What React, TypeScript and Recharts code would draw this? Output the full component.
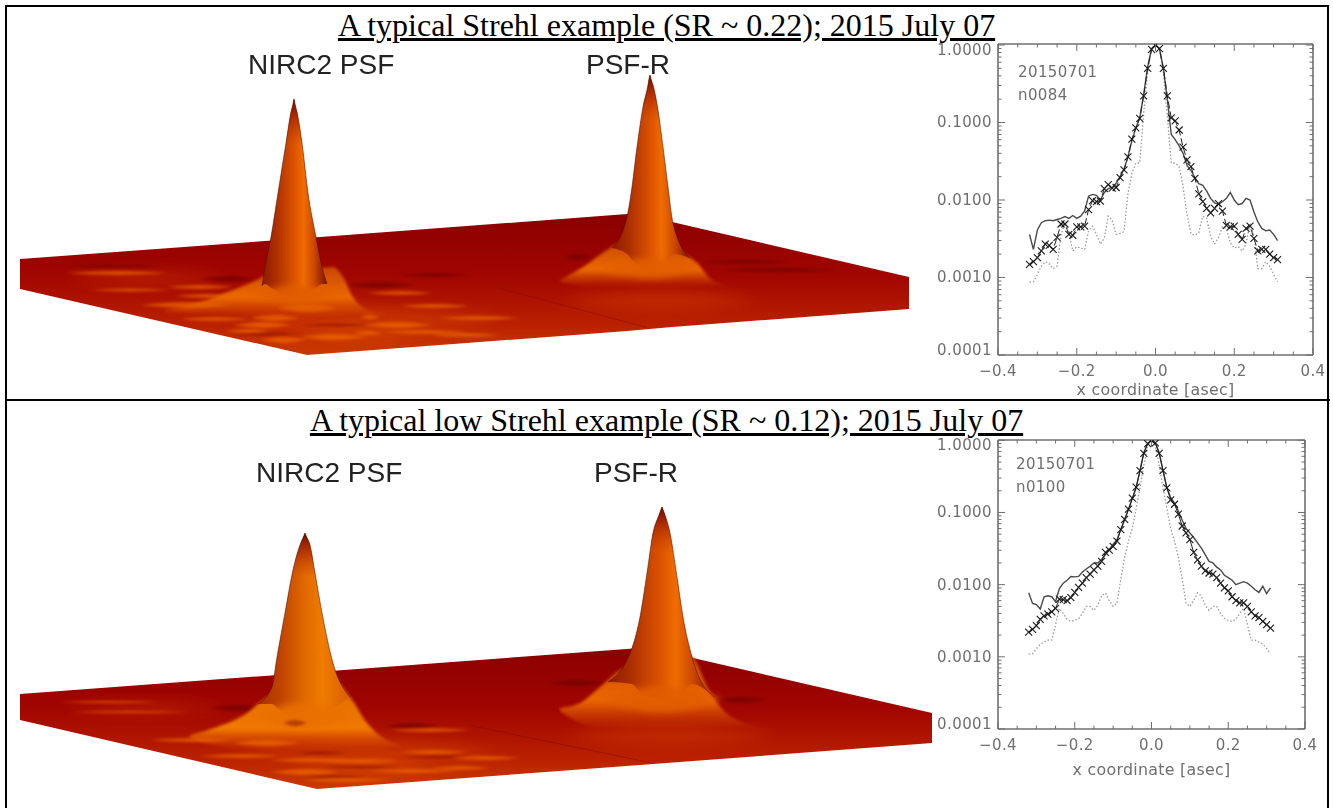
import React from 'react'
import { ComposedChart, LineChart, Line, Area, XAxis, YAxis } from 'recharts'

// profile cuts, x in arcsec
const xCoords = [-0.32,-0.31,-0.30,-0.29,-0.28,-0.27,-0.26,-0.25,-0.24,-0.23,-0.22,-0.21,-0.20,-0.19,-0.18,-0.17,-0.16,-0.15,-0.14,-0.13,-0.12,-0.11,-0.10,-0.09,-0.08,-0.07,-0.06,-0.05,-0.04,-0.03,-0.02,-0.01,0,0.01,0.02,0.03,0.04,0.05,0.06,0.07,0.08,0.09,0.10,0.11,0.12,0.13,0.14,0.15,0.16,0.17,0.18,0.19,0.20,0.21,0.22,0.23,0.24,0.25,0.26,0.27,0.28,0.29,0.30,0.31]

const crossedTop = [.00148,.0016,.0018,.0022,.0027,.0026,.0023,.0033,.0049,.0049,.0036,.0035,.0045,.0045,.0046,.0075,.0098,.0095,.0097,.014,.0158,.0142,.0145,.0195,.0245,.036,.061,.085,.113,.22,.5,.88,1,.9,.5,.22,.115,.105,.08,.048,.033,.027,.019,.012,.0095,.0078,.0068,.0078,.009,.0072,.0047,.0045,.0046,.0036,.0031,.0043,.0046,.0032,.0022,.0023,.0023,.002,.0018,.0017]
const solidTop = [.0036,.0023,.0041,.0051,.0054,.0055,.0054,.0056,.0058,.0061,.0058,.0063,.0058,.0062,.0072,.0112,.0118,.0115,.01,.0125,.014,.0145,.0165,.02,.025,.036,.058,.085,.115,.23,.52,.9,1,.9,.5,.2,.07,.06,.05,.04,.028,.024,.0195,.0162,.0155,.013,.0105,.0092,.0088,.0095,.0105,.0125,.01,.0087,.009,.0105,.01,.007,.0052,.0043,.004,.0041,.0036,.003]
const dottedTop = [.00087,.00088,.0011,.0014,.0016,.0015,.0013,.0014,.0035,.005,.0038,.0022,.0025,.0024,.0023,.004,.0046,.0036,.0027,.0032,.0062,.0055,.0036,.0037,.0039,.012,.022,.03,.03,.13,.45,.9,1,.9,.45,.12,.03,.03,.027,.015,.0065,.0037,.0035,.0038,.0062,.0058,.0034,.0027,.0033,.0045,.0043,.0028,.0024,.0025,.0022,.0027,.005,.0035,.0013,.0013,.0016,.0014,.0011,.00088]

const crossedLow = [.0022,.0024,.0027,.0033,.0037,.0039,.0042,.0047,.0063,.0062,.006,.0066,.0078,.0092,.0105,.0125,.014,.016,.018,.021,.028,.03,.034,.04,.058,.08,.111,.158,.224,.38,.66,.9,1,.92,.66,.38,.22,.15,.13,.095,.065,.052,.042,.028,.022,.018,.0155,.0145,.014,.0125,.0105,.009,.0082,.0068,.006,.0056,.0056,.005,.0042,.0037,.0035,.0031,.0028,.0025]
const solidLow = [.0077,.0055,.0053,.0046,.0068,.007,.0068,.0058,.0088,.0105,.0115,.013,.0128,.013,.015,.0165,.018,.02,.02,.0225,.026,.031,.036,.042,.058,.08,.11,.155,.22,.38,.68,.9,1,.92,.68,.38,.22,.16,.135,.105,.078,.06,.052,.045,.038,.032,.026,.021,.02,.0175,.016,.0135,.0125,.0115,.01,.0105,.011,.0105,.0095,.0085,.0078,.0095,.0075,.009]
const dottedLow = [.0011,.0011,.0013,.0015,.0016,.0017,.0017,.0028,.0047,.004,.0033,.0031,.0032,.0034,.004,.005,.005,.0044,.0052,.007,.0077,.006,.005,.0055,.012,.024,.04,.06,.115,.22,.45,.85,1,.85,.45,.22,.115,.06,.04,.024,.012,.0055,.005,.006,.0077,.007,.0052,.0044,.005,.005,.004,.0034,.0032,.0031,.0033,.004,.0047,.0028,.0017,.0017,.0016,.0015,.0013,.0011]

const xTickValues = [-0.4,-0.35,-0.3,-0.25,-0.2,-0.15,-0.1,-0.05,0,0.05,0.1,0.15,0.2,0.25,0.3,0.35,0.4]
const xMajor = [-0.4,-0.2,0,0.2,0.4]
const yMajor = [0.0001,0.001,0.01,0.1,1]
const yTickValues = [.0001,.0002,.0003,.0004,.0005,.0006,.0007,.0008,.0009,.001,.002,.003,.004,.005,.006,.007,.008,.009,.01,.02,.03,.04,.05,.06,.07,.08,.09,.1,.2,.3,.4,.5,.6,.7,.8,.9,1]

// surface silhouettes in page units
const plane1X = [20,307,627,672,909]
const plane1Back = [259,238,214,222,277]
const plane1Front = [289,355,331,327,309]
const plane2X = [20,317,640,693,932]
const plane2Back = [694,672,648,658,713]
const plane2Front = [720,789,765,761,743]

const cone1X = [262,265,271,278,286,291,293,294,295,297,302,308,316,322,327]
const cone1Top = [286,267,237,193,143,112,104,99,104,112,143,193,237,267,284]
const cone1Base = [286,284,288,292,295,296,296,296,296,296,295,292,288,284,284]
const foot1X = [165,200,233,257,280,305,322,333,343,353,362,385]
const foot1Top = [310,302,290,280,268,268,268,267,277,297,307,314]
const foot1Base = [312,314,315,316,318,318,317,316,315,314,314,316]

const cone2X = [612,627,632,637,643,648,649,650,651,653,658,663,668,673,690]
const cone2Top = [248,217,187,147,107,85,79,75,79,85,110,147,187,223,258]
const cone2Base = [248,254,260,264,267,268,268,268,268,268,267,264,260,254,258]
const foot2X = [560,573,583,607,620,640,660,683,697,710,725]
const foot2Top = [280,273,267,250,243,245,245,253,263,278,285]
const foot2Base = [282,285,287,287,287,287,287,287,287,286,287]

const cone3X = [258,272,277,285,293,300,304,305,306,310,315,322,333,350]
const cone3Top = [704,687,657,613,570,545,535.5,533,535.5,545,573,613,663,697]
const cone3Base = [704,704,708,714,717,718,718,718,718,718,717,714,708,697]
const foot3X = [190,217,247,263,280,305,333,350,367,383,400]
const foot3Top = [735,727,713,700,690,680,680,697,723,738,745]
const foot3Base = [738,746,750,750,750,750,750,750,750,748,747]

const cone4X = [608,632,640,647,653,659,661,662,663,665,670,677,683,692,714]
const cone4Top = [682,648,617,573,533,515,509.5,507,509.5,515,533,577,617,657,697]
const cone4Base = [682,684,692,696,698,700,700,700,700,700,698,696,692,684,697]
const foot4X = [560,580,600,620,640,662,692,707,723,737,760]
const foot4Top = [708,703,687,670,660,655,657,687,710,720,728]
const foot4Base = [711,723,727,728,728,728,728,728,727,727,730]

// ripples: start, end, centre, half thickness
const glowRipples = [[230,500,320,14],[285,420,335,7],[230,500,752,14],[295,440,768,9],[560,760,300,10],[560,780,735,10],[60,230,278,6],[60,230,708,5]]
const lightRipples1 = [[140,233,305,3],[250,300,318,3],[277,337,308,4],[360,380,317,2],[363,433,325,3],[353,383,333,2],[383,467,332,2],[300,367,337,3],[233,293,325,3],[260,307,340,3],[167,233,287,2],[67,167,273,2],[367,433,293,2],[180,250,319,2],[440,520,318,2],[430,500,335,2],[225,270,331,2],[90,170,290,1.5],[400,470,306,2],[175,240,296,2]]
const darkRipples1 = [[200,255,279,3],[345,415,285,3],[563,593,257,3],[700,790,262,2],[720,840,270,2],[60,170,266,1.5],[400,470,275,2],[300,370,325,1],[230,300,334,1]]
const lightRipples2 = [[233,300,743,3],[150,233,740,2],[320,400,761,2],[400,467,752,2],[270,340,772,3],[300,390,780,2],[370,460,771,2],[200,280,756,2],[430,490,768,2],[450,520,758,2],[70,190,712,1],[60,160,702,1],[390,470,730,2],[270,350,760,2]]
const darkRipples2 = [[293,347,753,1],[300,367,777,1],[320,400,767,1],[400,467,757,1],[385,440,726,3],[547,607,683,3],[717,767,700,3],[210,265,708,3]]
// soft collars where a cone runs into its foot
const collarRipples = [[252,338,294,9],[600,700,268,10],[250,356,716,13],[600,722,699,13]]
const dentRipples = [[283,307,723,3]]

const planeSeam1 = [[497,647],[287,327]]
const planeSeam2 = [[470,650],[725,762]]

const toBand = (xs: number[], tops: number[], bases: number[]) => xs.map((x, i) => ({ x, band: [tops[i], bases[i]] }))
const toLens = ([a, b, y, t]: number[]) => [
  { x: a, band: [y, y] },
  { x: (a + b) / 2, band: [y - t, y + t] },
  { x: b, band: [y, y] },
]
const toEdge = (xs: number[], ys: number[]) => xs.map((x, i) => ({ x, y: ys[i] }))

const grey = '#6f6f6f'
const plotFont = '"DejaVu Sans", sans-serif'

const planes = [toBand(plane1X, plane1Back, plane1Front), toBand(plane2X, plane2Back, plane2Front)]
const feet = [
  [toBand(foot1X, foot1Top, foot1Base), 'footFill'],
  [toBand(foot2X, foot2Top, foot2Base), 'footFill'],
  [toBand(foot3X, foot3Top, foot3Base), 'footFillLow'],
  [toBand(foot4X, foot4Top, foot4Base), 'footFill'],
] as [any[], string][]
const cones = [
  [toBand(cone1X, cone1Top, cone1Base), 'coneFill', toEdge(cone1X, cone1Top)],
  [toBand(cone2X, cone2Top, cone2Base), 'coneFill', toEdge(cone2X, cone2Top)],
  [toBand(cone3X, cone3Top, cone3Base), 'coneFillLow', toEdge(cone3X, cone3Top)],
  [toBand(cone4X, cone4Top, cone4Base), 'coneFill', toEdge(cone4X, cone4Top)],
] as [any[], string, any[]][]
const glows = glowRipples.map(toLens)
const lights = [...lightRipples1, ...lightRipples2].map(toLens)
const darks = [...darkRipples1, ...darkRipples2].map(toLens)
const collars = collarRipples.map(toLens)
const dents = dentRipples.map(toLens)
const seams = [planeSeam1, planeSeam2].map(([xs, ys]) => toBand(xs, ys, ys.map(y => y + 1)))

const flat = { isAnimationActive: false, dot: false, activeDot: false, stroke: 'none', fillOpacity: 1 } as const

function Surfaces() {
  return (
    <ComposedChart width={940} height={808} margin={{ top: 0, right: 0, bottom: 0, left: 0 }}>
      <defs>
        <filter id="soft" x="-20%" y="-100%" width="140%" height="300%">
          <feGaussianBlur stdDeviation="1.4" />
        </filter>
        <filter id="mid" x="-30%" y="-150%" width="160%" height="400%">
          <feGaussianBlur stdDeviation="3.2" />
        </filter>
        <filter id="softer" x="-20%" y="-100%" width="140%" height="300%">
          <feGaussianBlur stdDeviation="7" />
        </filter>
        <linearGradient id="planeFill" x1="0" y1="0" x2="0" y2="1">
          <stop offset="0%" stopColor="#8a0000" />
          <stop offset="45%" stopColor="#a20600" />
          <stop offset="80%" stopColor="#bb2200" />
          <stop offset="100%" stopColor="#c83c00" />
        </linearGradient>
        <linearGradient id="coneFill" x1="0" y1="0" x2="1" y2="0">
          <stop offset="0%" stopColor="#8c1a00" />
          <stop offset="22%" stopColor="#ad2f00" />
          <stop offset="50%" stopColor="#dc5400" />
          <stop offset="64%" stopColor="#f06c00" />
          <stop offset="80%" stopColor="#cc4800" />
          <stop offset="100%" stopColor="#7c1200" />
        </linearGradient>
        <linearGradient id="coneFillLow" x1="0" y1="0" x2="1" y2="0">
          <stop offset="0%" stopColor="#a83200" />
          <stop offset="25%" stopColor="#c04400" />
          <stop offset="50%" stopColor="#e06800" />
          <stop offset="70%" stopColor="#f07c00" />
          <stop offset="100%" stopColor="#d85c00" />
        </linearGradient>
        <linearGradient id="footFill" x1="0" y1="0" x2="0" y2="1">
          <stop offset="0%" stopColor="#c84800" />
          <stop offset="60%" stopColor="#ec6800" />
          <stop offset="100%" stopColor="#e06000" stopOpacity="0" />
        </linearGradient>
        <linearGradient id="footFillLow" x1="0" y1="0" x2="0" y2="1">
          <stop offset="0%" stopColor="#e06c00" />
          <stop offset="70%" stopColor="#f07800" />
          <stop offset="100%" stopColor="#e86000" stopOpacity="0" />
        </linearGradient>
        <linearGradient id="tipShade" x1="0" y1="0" x2="0" y2="1">
          <stop offset="0%" stopColor="#6a0a00" />
          <stop offset="10%" stopColor="#a02000" stopOpacity="0.7" />
          <stop offset="24%" stopColor="#c03800" stopOpacity="0" />
        </linearGradient>
      </defs>
      <XAxis type="number" dataKey="x" domain={[0, 940]} hide />
      <YAxis type="number" domain={[0, 808]} reversed hide />
      {planes.map((d, i) => (
        <Area key={'plane' + i} {...flat} data={d} dataKey="band" type="linear" fill="url(#planeFill)" />
      ))}
      {glows.map((d, i) => (
        <Area key={'glow' + i} {...flat} data={d} dataKey="band" type="monotone" fill="#e85800" fillOpacity={0.3} filter="url(#softer)" />
      ))}
      {darks.map((d, i) => (
        <Area key={'dark' + i} {...flat} data={d} dataKey="band" type="monotone" fill="#6a0000" fillOpacity={0.6} filter="url(#soft)" />
      ))}
      {lights.map((d, i) => (
        <Area key={'light' + i} {...flat} data={d} dataKey="band" type="monotone" fill="#f06a00" fillOpacity={0.7} filter="url(#soft)" />
      ))}
      {seams.map((d, i) => (
        <Area key={'seam' + i} {...flat} data={d} dataKey="band" type="linear" fill="#8a0a00" fillOpacity={0.5} />
      ))}
      {feet.map(([d, fill], i) => (
        <Area key={'foot' + i} {...flat} data={d} dataKey="band" type="monotone" fill={`url(#${fill})`} filter="url(#soft)" />
      ))}
      {cones.map(([d, fill], i) => (
        <Area key={'cone' + i} {...flat} data={d} dataKey="band" type="monotone" fill={`url(#${fill})`} />
      ))}
      {cones.map(([d], i) => (
        <Area key={'tip' + i} {...flat} data={d} dataKey="band" type="monotone" fill="url(#tipShade)" />
      ))}
      {cones.map(([, , edge], i) => (
        <Line key={'edge' + i} data={edge} dataKey="y" type="monotone" stroke="#5a0800" strokeOpacity={0.55} strokeWidth={1} dot={false} activeDot={false} isAnimationActive={false} />
      ))}
      {collars.map((d, i) => (
        <Area key={'collar' + i} {...flat} data={d} dataKey="band" type="monotone" fill={i === 2 ? '#ea7000' : '#e25c00'} fillOpacity={0.9} filter="url(#mid)" />
      ))}
      {dents.map((d, i) => (
        <Area key={'dent' + i} {...flat} data={d} dataKey="band" type="monotone" fill="#a83000" fillOpacity={0.8} filter="url(#soft)" />
      ))}
    </ComposedChart>
  )
}

const crossDot = (props: any) => {
  const { cx, cy, index } = props
  return <path key={index} d={`M${cx - 3.5} ${cy - 3.5}L${cx + 3.5} ${cy + 3.5}M${cx - 3.5} ${cy + 3.5}L${cx + 3.5} ${cy - 3.5}`} stroke="#1a1a1a" strokeWidth={1.1} fill="none" />
}

const tickText = { fill: grey, fontFamily: plotFont, fontSize: 15, letterSpacing: 0.4 }

const yTick = (side: 'left' | 'right') => (props: any) => {
  const { x, y, payload } = props
  const major = yMajor.includes(payload.value)
  const len = major ? 7 : 3.5
  const dx = side === 'left' ? len : -len
  const shift = payload.value === 1 ? 5 : payload.value === 0.0001 ? -5 : 0
  return (
    <g>
      <line x1={x} x2={x + dx} y1={y} y2={y} stroke={grey} />
      {side === 'left' && major && (
        <text x={x - 6} y={y + shift + 5} textAnchor="end" {...tickText}>{payload.value.toFixed(4)}</text>
      )}
    </g>
  )
}

const xTick = (side: 'top' | 'bottom') => (props: any) => {
  const { x, y, payload } = props
  const major = xMajor.includes(payload.value)
  const len = major ? 7 : 3.5
  const dy = side === 'bottom' ? -len : len
  return (
    <g>
      <line x1={x} x2={x} y1={y} y2={y + dy} stroke={grey} />
      {side === 'bottom' && major && (
        <text x={x} y={y + 21} textAnchor="middle" {...tickText}>{payload.value.toFixed(1).replace('-', '\u2212')}</text>
      )}
    </g>
  )
}

type ProfileProps = {
  crossed: number[]
  solid: number[]
  dotted: number[]
  width: number
  height: number
  sides: { left: number; right: number; top: number; bottom: number }
  yMax: number
  crossedDash?: string
}

function ProfilePlot({ crossed, solid, dotted, width, height, sides, yMax, crossedDash }: ProfileProps) {
  const rows = xCoords.map((x, i) => ({ x, crossed: crossed[i], solid: solid[i], dotted: dotted[i] }))
  const axisStroke = { stroke: grey, strokeWidth: 1.6 }
  return (
    <LineChart width={width} height={height} data={rows} margin={{ top: 0, right: 0, bottom: 0, left: 0 }}>
      <XAxis xAxisId="b" type="number" dataKey="x" domain={[-0.4, 0.4]} ticks={xTickValues} interval={0} height={sides.bottom} axisLine={axisStroke} tickLine={false} tickSize={0} tickMargin={0} tick={xTick('bottom')}
        label={{ value: 'x coordinate [asec]', position: 'bottom', offset: -16, fill: grey, fontFamily: plotFont, fontSize: 15.8, letterSpacing: 0.3 }} />
      <XAxis xAxisId="t" orientation="top" type="number" dataKey="x" domain={[-0.4, 0.4]} ticks={xTickValues} interval={0} height={sides.top} axisLine={axisStroke} tickLine={false} tickSize={0} tickMargin={0} tick={xTick('top')} />
      <YAxis yAxisId="l" type="number" scale="log" domain={[0.0001, yMax]} allowDataOverflow ticks={yTickValues} interval={0} width={sides.left} axisLine={axisStroke} tickLine={false} tickSize={0} tickMargin={0} tick={yTick('left')} />
      <YAxis yAxisId="r" orientation="right" type="number" scale="log" domain={[0.0001, yMax]} allowDataOverflow ticks={yTickValues} interval={0} width={sides.right} axisLine={axisStroke} tickLine={false} tickSize={0} tickMargin={0} tick={yTick('right')} />
      <Line xAxisId="b" yAxisId="l" dataKey="dotted" type="linear" stroke="#9a9a9a" strokeWidth={1.3} strokeDasharray="1.5 2" dot={false} isAnimationActive={false} />
      <Line xAxisId="b" yAxisId="l" dataKey="solid" type="linear" stroke="#4a4a4a" strokeWidth={1.4} dot={false} isAnimationActive={false} />
      <Line xAxisId="b" yAxisId="l" dataKey="crossed" type="linear" stroke="#222" strokeWidth={1} strokeDasharray={crossedDash} dot={crossDot} isAnimationActive={false} />
    </LineChart>
  )
}

const absolute = (left: number, top: number, extra: React.CSSProperties = {}): React.CSSProperties => ({ position: 'absolute', left, top, ...extra })
const ruleColor = '#000'
const titleStyle: React.CSSProperties = { width: 1333, textAlign: 'center', fontFamily: '"Liberation Serif", serif', fontSize: 32, textDecoration: 'underline', color: '#000', lineHeight: '34px', whiteSpace: 'nowrap' }
const psfLabel: React.CSSProperties = { fontFamily: '"Liberation Sans", sans-serif', fontSize: 28, color: '#222', lineHeight: '30px', whiteSpace: 'nowrap', filter: 'blur(0.4px)' }
const noteStyle: React.CSSProperties = { fontFamily: plotFont, fontSize: 15, letterSpacing: 0.4, color: grey, lineHeight: '18px', filter: 'blur(0.3px)' }

export default function App() {
  return (
    <div style={absolute(0, 0, { width: 1333, height: 808, overflow: 'hidden', background: '#fff' })}>
      <div style={absolute(0, 0, { filter: 'blur(0.7px)' })}><Surfaces /></div>

      <div style={absolute(930, 30, { filter: 'blur(0.4px)' })}>
        <ProfilePlot crossed={crossedTop} solid={solidTop} dotted={dottedTop} width={400} height={370} sides={{ left: 68, right: 17, top: 14, bottom: 45 }} yMax={1.03} crossedDash="7 3" />
      </div>
      <div style={absolute(930, 430, { filter: 'blur(0.4px)' })}>
        <ProfilePlot crossed={crossedLow} solid={solidLow} dotted={dottedLow} width={400} height={350} sides={{ left: 68, right: 25, top: 10, bottom: 51 }} yMax={1.01} />
      </div>

      <div style={absolute(1018, 63, noteStyle)}>20150701</div>
      <div style={absolute(1018, 86, noteStyle)}>n0084</div>
      <div style={absolute(1016, 455, noteStyle)}>20150701</div>
      <div style={absolute(1016, 478, noteStyle)}>n0100</div>

      <div style={absolute(0, 8, titleStyle)}>A typical Strehl example (SR ~ 0.22); 2015 July 07</div>
      <div style={absolute(0, 403, titleStyle)}>A typical low Strehl example (SR ~ 0.12); 2015 July 07</div>

      <div style={absolute(248, 50, psfLabel)}>NIRC2 PSF</div>
      <div style={absolute(586, 50, psfLabel)}>PSF-R</div>
      <div style={absolute(256, 458, psfLabel)}>NIRC2 PSF</div>
      <div style={absolute(594, 458, psfLabel)}>PSF-R</div>

      <div style={absolute(5, 5, { width: 2, height: 803, background: ruleColor })} />
      <div style={absolute(5, 5, { width: 1324, height: 2, background: ruleColor })} />
      <div style={absolute(1327, 5, { width: 2, height: 803, background: ruleColor })} />
      <div style={absolute(5, 399, { width: 1325, height: 2, background: ruleColor })} />
    </div>
  )
}
